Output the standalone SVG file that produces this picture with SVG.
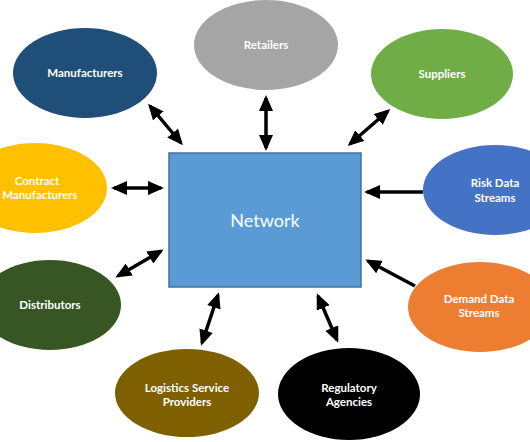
<svg xmlns="http://www.w3.org/2000/svg" width="530" height="442" viewBox="0 0 530 442">
<defs>
<marker id="ah" markerUnits="userSpaceOnUse" markerWidth="16" markerHeight="14" refX="13" refY="7" orient="auto-start-reverse" viewBox="0 0 16 14">
<path d="M0,0 L16,7 L0,14 Z" fill="#000"/>
</marker>
<style>
.lbl{font-family:Lato,"Liberation Sans",sans-serif;font-weight:bold;font-size:11.5px;fill:#fff;text-anchor:middle}
.c{stroke:#000;stroke-width:3.5;fill:none}
.d{marker-start:url(#ah);marker-end:url(#ah)}
.s{marker-end:url(#ah)}
</style>
</defs>
<rect width="530" height="442" fill="#fff"/>
<g id="connectors">
<path class="c d" d="M150,106 L181,143"/>
<path class="c d" d="M266,98 L266,148"/>
<path class="c d" d="M388,111 L350,144"/>
<path class="c d" d="M114,188 L161,188"/>
<path class="c d" d="M118,276 L161,251"/>
<path class="c s" d="M423,192 L367,192"/>
<path class="c s" d="M415,286 L368,261"/>
<path class="c d" d="M218,295 L202,343"/>
<path class="c d" d="M318,296 L337,340"/>
</g>
<g id="network">
<rect x="169" y="153" width="192" height="134" fill="#5b9bd5" stroke="#41719c" stroke-width="1.5"/>
<text x="265" y="227" font-family="Lato,'Liberation Sans',sans-serif" font-size="18" fill="#fff" text-anchor="middle">Network</text>
</g>
<g id="manufacturers">
<ellipse cx="85" cy="73" rx="72" ry="45" fill="#1f4e79"/>
<text class="lbl" x="85" y="77">Manufacturers</text>
</g>
<g id="retailers">
<ellipse cx="266" cy="45" rx="72" ry="45" fill="#a5a5a5"/>
<text class="lbl" x="266" y="49">Retailers</text>
</g>
<g id="suppliers">
<ellipse cx="442" cy="74" rx="71" ry="45" fill="#70ad47"/>
<text class="lbl" x="442" y="78">Suppliers</text>
</g>
<g id="contract-manufacturers">
<ellipse cx="35" cy="188" rx="72" ry="45" fill="#ffc000"/>
<text class="lbl" x="37" y="185">Contract</text>
<text class="lbl" x="40" y="199">Manufacturers</text>
</g>
<g id="risk-data-streams">
<ellipse cx="495" cy="190" rx="72" ry="45" fill="#4472c4"/>
<text class="lbl" x="495" y="187">Risk Data</text>
<text class="lbl" x="495" y="202">Streams</text>
</g>
<g id="demand-data-streams">
<ellipse cx="480" cy="307" rx="72" ry="45" fill="#ed7d31"/>
<text class="lbl" x="479" y="303">Demand Data</text>
<text class="lbl" x="479" y="317">Streams</text>
</g>
<g id="distributors">
<ellipse cx="50" cy="305" rx="71" ry="45" fill="#375623"/>
<text class="lbl" x="50" y="309">Distributors</text>
</g>
<g id="logistics-service-providers">
<ellipse cx="187" cy="393" rx="72" ry="44" fill="#7f6000"/>
<text class="lbl" x="187" y="392">Logistics Service</text>
<text class="lbl" x="187" y="406">Providers</text>
</g>
<g id="regulatory-agencies">
<ellipse cx="349" cy="394" rx="71" ry="46" fill="#000"/>
<text class="lbl" x="349" y="392">Regulatory</text>
<text class="lbl" x="349" y="406">Agencies</text>
</g>
</svg>
